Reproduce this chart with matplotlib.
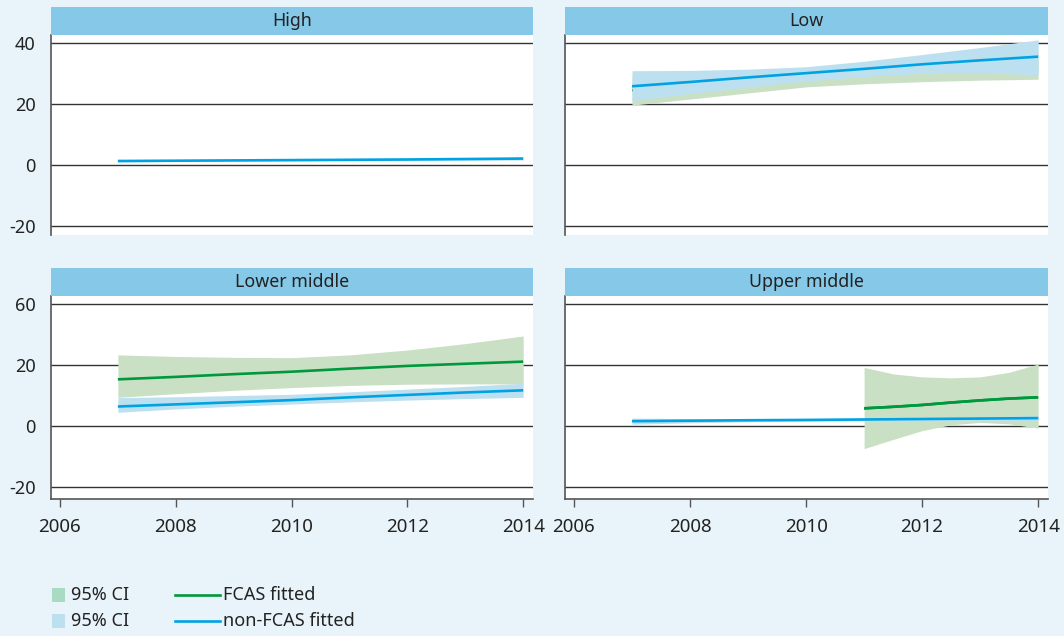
import matplotlib
matplotlib.use("Agg")
import matplotlib.pyplot as plt
from matplotlib.patches import Rectangle
from matplotlib.lines import Line2D

plt.rcParams["font.family"] = ["Noto Sans", "DejaVu Sans"]

# ---- data -------------------------------------------------------------
years = [2007, 2008, 2009, 2010, 2011, 2012, 2013, 2014]

# High income: only the non-FCAS fit
high_blue = [1.3, 1.4, 1.5, 1.6, 1.7, 1.8, 1.95, 2.1]
high_blue_lo = [1.0, 1.15, 1.25, 1.35, 1.45, 1.5, 1.55, 1.6]
high_blue_hi = [1.6, 1.65, 1.75, 1.85, 1.95, 2.1, 2.3, 2.6]

# Low income
low_green = [24.5, 26.0, 27.5, 29.0, 30.5, 31.6, 32.2, 32.5]
low_green_lo = [19.6, 21.6, 23.6, 25.6, 26.6, 27.3, 27.8, 28.1]
low_green_hi = [29.5, 30.0, 30.5, 31.2, 32.5, 33.8, 35.5, 37.0]
low_blue = [25.8, 27.2, 28.7, 30.1, 31.5, 33.0, 34.3, 35.5]
low_blue_lo = [21.1, 23.4, 25.6, 27.5, 29.0, 30.0, 30.3, 29.5]
low_blue_hi = [30.9, 31.0, 31.4, 32.2, 34.0, 36.2, 38.5, 41.0]

# Lower middle income
lm_green = [15.3, 16.1, 17.0, 17.8, 18.8, 19.7, 20.4, 21.1]
lm_green_lo = [9.4, 10.6, 11.7, 12.6, 13.3, 13.7, 13.8, 13.8]
lm_green_hi = [23.3, 22.8, 22.5, 22.4, 23.3, 24.9, 27.0, 29.5]
lm_blue = [6.4, 7.1, 7.8, 8.5, 9.4, 10.2, 11.0, 11.7]
lm_blue_lo = [4.5, 5.6, 6.5, 7.2, 7.9, 8.5, 9.0, 9.4]
lm_blue_hi = [9.3, 9.6, 10.0, 10.4, 11.2, 12.1, 13.0, 14.0]

# Upper middle income
um_blue = [1.6, 1.75, 1.9, 2.0, 2.15, 2.3, 2.45, 2.6]
um_blue_lo = [0.6, 1.05, 1.4, 1.6, 1.75, 1.8, 1.85, 1.8]
um_blue_hi = [2.6, 2.45, 2.4, 2.4, 2.55, 2.8, 3.05, 3.4]
um_green_years = [2011, 2011.5, 2012, 2012.5, 2013, 2013.5, 2014]
um_green = [5.8, 6.3, 6.9, 7.7, 8.4, 9.0, 9.4]
um_green_lo = [-7.4, -4.4, -1.5, 0.4, 1.2, 0.7, -0.7]
um_green_hi = [19.2, 17.1, 16.1, 15.8, 16.1, 17.6, 20.3]

panel_titles = ["High", "Low", "Lower middle", "Upper middle"]
x_ticks = [2006, 2008, 2010, 2012, 2014]
y_ticks = [-20, 0, 20, 40]
y_labels_top = ["-20", "0", "20", "40"]
y_labels_bottom = ["-20", "0", "20", "60"]
legend_labels = ["95% CI", "95% CI", "FCAS fitted", "non-FCAS fitted"]

# ---- styling ----------------------------------------------------------
BG = "#e8f4fa"
STRIP = "#85c8e8"
GREEN = "#00983c"
BLUE = "#00a3e2"
GREEN_BAND = "#c9e0c5"
BLUE_BAND = "#bde0f1"
GREEN_KEY = "#a8dbc2"
BLUE_KEY = "#bde0f1"
GRID = "#333333"
SPINE = "#555555"
TXT = "#222222"
FS_TITLE = 12.8
FS_Y = 13
FS_X = 13.5
FS_LEG = 13

W, H = 1064, 636
fig = plt.figure(figsize=(W / 100, H / 100), dpi=100, facecolor=BG)


def fx(px):
    return px / W


def fy(py):
    return 1 - py / H


cols = [(51, 533), (565, 1048)]
rows = [(7, 35, 235), (268, 296, 499)]
ylims = [(-22.95, 42.6), (-23.9, 42.6)]

series = [
    dict(blue=(years, high_blue, high_blue_lo, high_blue_hi), green=None),
    dict(blue=(years, low_blue, low_blue_lo, low_blue_hi),
         green=(years, low_green, low_green_lo, low_green_hi)),
    dict(blue=(years, lm_blue, lm_blue_lo, lm_blue_hi),
         green=(years, lm_green, lm_green_lo, lm_green_hi)),
    dict(blue=(years, um_blue, um_blue_lo, um_blue_hi),
         green=(um_green_years, um_green, um_green_lo, um_green_hi)),
]

for i in range(4):
    r, c = divmod(i, 2)
    x0, x1 = cols[c]
    s0, s1, p1 = rows[r]
    ax = fig.add_axes([fx(x0), fy(p1), fx(x1 - x0), (p1 - s1) / H])
    sax = fig.add_axes([fx(x0), fy(s1), fx(x1 - x0), (s1 - s0) / H])

    # facet strip
    sax.set_facecolor(STRIP)
    sax.set_xticks([])
    sax.set_yticks([])
    for sp in sax.spines.values():
        sp.set_visible(False)
    sax.text(0.5, 0.5, panel_titles[i], ha="center", va="center",
             fontsize=FS_TITLE, color=TXT, transform=sax.transAxes)

    ax.set_facecolor("white")
    ax.set_xlim(2005.845, 2014.17)
    ax.set_ylim(*ylims[r])
    ax.set_yticks(y_ticks)
    ax.set_axisbelow(True)
    ax.grid(axis="y", color=GRID, lw=1.0, zorder=0)
    ax.grid(axis="x", visible=False)

    for name in ("top", "right"):
        ax.spines[name].set_visible(False)
    ax.spines["left"].set_color(SPINE)
    ax.spines["left"].set_linewidth(1.2)

    if c == 0:
        ax.set_yticklabels(y_labels_top if r == 0 else y_labels_bottom)
    else:
        ax.set_yticklabels([])
    ax.tick_params(axis="y", length=0, pad=11, labelsize=FS_Y, labelcolor=TXT)

    if r == 1:
        ax.set_xticks(x_ticks)
        ax.set_xticklabels([str(t) for t in x_ticks])
        ax.spines["bottom"].set_color(SPINE)
        ax.spines["bottom"].set_linewidth(1.2)
        ax.tick_params(axis="x", length=6, width=1, color=SPINE, pad=8,
                       labelsize=FS_X, labelcolor=TXT)
    else:
        ax.spines["bottom"].set_visible(False)
        ax.set_xticks([])

    d = series[i]
    if d["green"] is not None:
        gx, gy, glo, ghi = d["green"]
        ax.fill_between(gx, glo, ghi, color=GREEN_BAND, lw=0, zorder=2)
        ax.plot(gx, gy, color=GREEN, lw=1.9, zorder=3,
                solid_capstyle="butt")
    bx, by, blo, bhi = d["blue"]
    ax.fill_between(bx, blo, bhi, color=BLUE_BAND, lw=0, zorder=4)
    ax.plot(bx, by, color=BLUE, lw=1.9, zorder=5, solid_capstyle="butt")
    if i == 3:
        # the FCAS line stays visible over the non-FCAS band here
        ax.plot(gx, gy, color=GREEN, lw=1.9, zorder=6, solid_capstyle="butt")

# ---- legend keys ------------------------------------------------------
key_rows = [595, 621]
fig.add_artist(Rectangle((fx(52), fy(602)), fx(13), 14 / H,
                         transform=fig.transFigure, color=GREEN_KEY, lw=0))
fig.add_artist(Rectangle((fx(52), fy(628)), fx(13), 14 / H,
                         transform=fig.transFigure, color=BLUE_KEY, lw=0))
fig.text(fx(71), fy(key_rows[0]), legend_labels[0], fontsize=FS_LEG,
         color=TXT, va="center", ha="left")
fig.text(fx(71), fy(key_rows[1]), legend_labels[1], fontsize=FS_LEG,
         color=TXT, va="center", ha="left")
fig.add_artist(Line2D([fx(175), fx(220)], [fy(key_rows[0])] * 2,
                      transform=fig.transFigure, color=GREEN, lw=1.9))
fig.add_artist(Line2D([fx(175), fx(220)], [fy(key_rows[1])] * 2,
                      transform=fig.transFigure, color=BLUE, lw=1.9))
fig.text(fx(223), fy(key_rows[0]), legend_labels[2], fontsize=FS_LEG,
         color=TXT, va="center", ha="left")
fig.text(fx(223), fy(key_rows[1]), legend_labels[3], fontsize=FS_LEG,
         color=TXT, va="center", ha="left")

fig.savefig("out.png", dpi=100, facecolor=BG)
